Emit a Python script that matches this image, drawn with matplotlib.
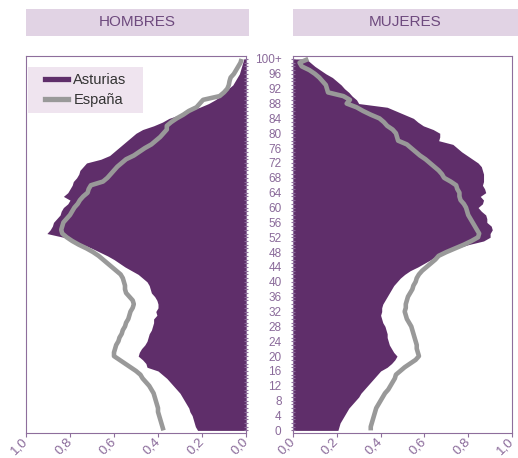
import numpy as np
import matplotlib
matplotlib.use('Agg')
import matplotlib.pyplot as plt
from matplotlib.patches import Rectangle
from matplotlib.ticker import MultipleLocator

plt.rcParams['font.family'] = ['Liberation Sans', 'DejaVu Sans']

# % of population by single year of age (0 .. 100+)
ages = np.arange(0, 101)

asturias_h = [0.22, 0.23, 0.235, 0.24, 0.245, 0.255, 0.26, 0.27, 0.28, 0.29,
              0.30, 0.315, 0.33, 0.345, 0.36, 0.38, 0.40, 0.45, 0.455, 0.47,
              0.49, 0.485, 0.475, 0.46, 0.45, 0.445, 0.44, 0.43, 0.425, 0.42,
              0.42, 0.405, 0.41, 0.40, 0.40, 0.405, 0.415, 0.43, 0.435, 0.44,
              0.45, 0.47, 0.49, 0.52, 0.55, 0.575, 0.60, 0.63, 0.665, 0.70,
              0.74, 0.78, 0.83, 0.905, 0.89, 0.88, 0.875, 0.86, 0.845, 0.84,
              0.83, 0.81, 0.80, 0.83, 0.81, 0.80, 0.79, 0.785, 0.77, 0.76,
              0.755, 0.74, 0.725, 0.66, 0.62, 0.60, 0.58, 0.56, 0.54, 0.52,
              0.50, 0.47, 0.42, 0.38, 0.35, 0.30, 0.26, 0.21, 0.17, 0.14,
              0.115, 0.10, 0.08, 0.06, 0.05, 0.04, 0.03, 0.025, 0.02, 0.015,
              0.01]

espana_h = [0.375, 0.38, 0.385, 0.39, 0.395, 0.40, 0.40, 0.405, 0.41, 0.415,
            0.42, 0.43, 0.44, 0.455, 0.47, 0.48, 0.50, 0.525, 0.55, 0.575,
            0.60, 0.60, 0.595, 0.59, 0.58, 0.575, 0.565, 0.56, 0.55, 0.545,
            0.535, 0.53, 0.525, 0.515, 0.51, 0.515, 0.53, 0.545, 0.55, 0.55,
            0.555, 0.56, 0.57, 0.59, 0.61, 0.63, 0.65, 0.67, 0.695, 0.725,
            0.76, 0.79, 0.815, 0.835, 0.84, 0.835, 0.83, 0.815, 0.80, 0.79,
            0.78, 0.765, 0.755, 0.74, 0.72, 0.715, 0.705, 0.65, 0.63, 0.615,
            0.60, 0.585, 0.565, 0.545, 0.51, 0.485, 0.46, 0.43, 0.41, 0.39,
            0.375, 0.36, 0.36, 0.34, 0.315, 0.285, 0.26, 0.225, 0.21, 0.195,
            0.12, 0.10, 0.085, 0.078, 0.075, 0.07, 0.055, 0.045, 0.035, 0.025,
            0.02]

asturias_m = [0.205, 0.21, 0.215, 0.225, 0.235, 0.245, 0.255, 0.27, 0.285, 0.30,
              0.31, 0.325, 0.34, 0.355, 0.37, 0.385, 0.40, 0.43, 0.45, 0.465,
              0.475, 0.46, 0.45, 0.44, 0.435, 0.43, 0.43, 0.425, 0.42, 0.41,
              0.405, 0.40, 0.405, 0.405, 0.41, 0.42, 0.43, 0.44, 0.45, 0.46,
              0.475, 0.49, 0.51, 0.535, 0.57, 0.60, 0.63, 0.655, 0.70, 0.745,
              0.80, 0.87, 0.90, 0.90, 0.91, 0.905, 0.885, 0.885, 0.88, 0.86,
              0.845, 0.865, 0.87, 0.855, 0.88, 0.875, 0.865, 0.87, 0.87, 0.87,
              0.865, 0.86, 0.845, 0.82, 0.795, 0.77, 0.75, 0.73, 0.665, 0.67,
              0.67, 0.64, 0.595, 0.57, 0.55, 0.51, 0.47, 0.43, 0.30, 0.29,
              0.27, 0.255, 0.235, 0.22, 0.20, 0.18, 0.15, 0.125, 0.10, 0.08,
              0.06]

espana_m = [0.355, 0.355, 0.36, 0.365, 0.37, 0.375, 0.38, 0.39, 0.40, 0.41,
            0.42, 0.435, 0.445, 0.455, 0.465, 0.47, 0.49, 0.51, 0.535, 0.56,
            0.575, 0.57, 0.565, 0.565, 0.56, 0.555, 0.55, 0.545, 0.54, 0.53,
            0.52, 0.515, 0.51, 0.515, 0.515, 0.52, 0.525, 0.535, 0.545, 0.55,
            0.56, 0.565, 0.575, 0.59, 0.61, 0.63, 0.65, 0.665, 0.70, 0.74,
            0.78, 0.815, 0.845, 0.85, 0.84, 0.83, 0.82, 0.81, 0.80, 0.795,
            0.79, 0.78, 0.765, 0.76, 0.76, 0.75, 0.745, 0.72, 0.69, 0.68,
            0.665, 0.645, 0.625, 0.605, 0.58, 0.56, 0.54, 0.52, 0.48, 0.475,
            0.47, 0.455, 0.43, 0.415, 0.395, 0.355, 0.32, 0.29, 0.245, 0.26,
            0.23, 0.16, 0.155, 0.15, 0.135, 0.12, 0.10, 0.075, 0.04, 0.03,
            0.07]

age_ticks = list(range(0, 101, 4))
age_labels = [str(a) for a in range(0, 100, 4)] + ['100+']
x_ticks = [0.0, 0.2, 0.4, 0.6, 0.8, 1.0]
x_labels = ['0,0', '0,2', '0,4', '0,6', '0,8', '1,0']

purple = '#5f2e6a'
grey = '#999999'
txt = '#8a6a9a'
spine = '#8e6e9c'

fig = plt.figure(figsize=(5.18, 4.58), dpi=100)
W, H = 518, 458

def box(x0, x1, y0, y1):
    return [x0 / W, 1 - y1 / H, (x1 - x0) / W, (y1 - y0) / H]

axl = fig.add_axes(box(26, 246, 56, 433))
axr = fig.add_axes(box(293, 512, 56, 433))

axl.fill_betweenx(ages, 0, asturias_h, color=purple, lw=0)
axl.plot(espana_h, ages, color=grey, lw=3.3, solid_capstyle='butt')
axr.fill_betweenx(ages, 0, asturias_m, color=purple, lw=0)
axr.plot(espana_m, ages, color=grey, lw=3.3, solid_capstyle='butt')

for ax in (axl, axr):
    ax.set_ylim(-0.7, 100.8)
    ax.set_xticks(x_ticks)
    ax.set_xticklabels(x_labels, rotation=45, ha='right', va='center',
                       rotation_mode='anchor', fontsize=9.5, color=txt)
    ax.tick_params(axis='x', direction='out', length=3, color=spine, pad=2)
    ax.yaxis.set_minor_locator(MultipleLocator(1))
    for s in ax.spines.values():
        s.set_color(spine)
        s.set_linewidth(0.8)

axl.set_xlim(1.0, 0.0)
axr.set_xlim(0.0, 1.0)

axl.yaxis.tick_right()
axl.set_yticks(age_ticks)
axl.set_yticklabels([])
axl.tick_params(axis='y', which='both', direction='inout', length=2.5,
                width=0.8, color=spine)

axr.set_yticks(age_ticks)
axr.set_yticklabels(age_labels, fontsize=8.5, color=txt)
axr.tick_params(axis='y', which='both', direction='inout', length=2.5,
                width=0.8, color=spine, pad=7)

# legend: light box drawn separately, legend itself frameless
axl.add_patch(Rectangle((2 / 220, 1 - 57 / 377), 115 / 220, 46 / 377,
                        transform=axl.transAxes, facecolor='#efe4ef',
                        edgecolor='none', zorder=3))
leg = axl.legend(handles=[
    plt.Line2D([], [], color=purple, lw=3.8),
    plt.Line2D([], [], color=grey, lw=3.8)],
    labels=['Asturias', 'España'], loc='upper left', fontsize=10.5,
    frameon=False, bbox_to_anchor=(13 / 220, 1 - 11 / 377), borderaxespad=0,
    handlelength=1.6, handletextpad=0.35, labelspacing=0.45, borderpad=0.4)
leg.set_zorder(4)
for t in leg.get_texts():
    t.set_color('#333333')

# headers
for (x0, x1, label) in [(26, 249, 'HOMBRES'), (293, 518, 'MUJERES')]:
    b = box(x0, x1, 9, 36)
    fig.patches.append(Rectangle((b[0], b[1]), b[2], b[3], transform=fig.transFigure,
                                 facecolor='#e1d3e4', edgecolor='none'))
    fig.text(b[0] + b[2] / 2, b[1] + b[3] / 2, label, ha='center', va='center',
             fontsize=11, color='#6e4a7e')

fig.savefig('out.png', dpi=100)
